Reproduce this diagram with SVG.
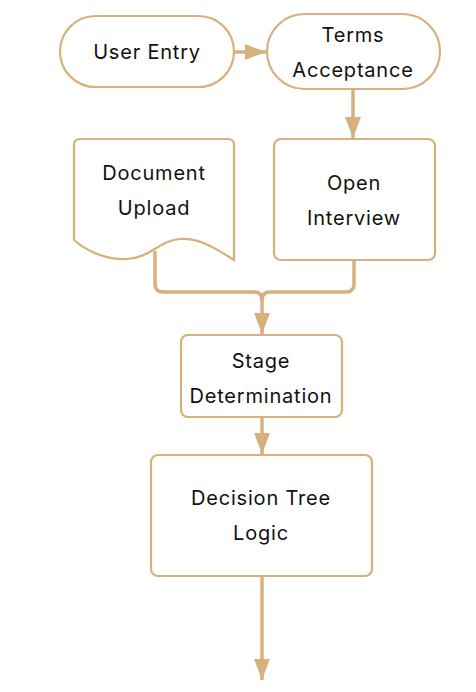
<svg xmlns="http://www.w3.org/2000/svg" width="476" height="692" viewBox="0 0 476 692">
<defs>
<style>
.node{fill:#fff;stroke:#D6B17E;stroke-width:2.2}
.edge{fill:none;stroke:#D6B17E;stroke-width:3.5;stroke-linejoin:round}
.t{font-family:Inter,"DejaVu Sans",sans-serif;font-size:20px;letter-spacing:0.8px;fill:#111;text-anchor:middle}
</style>
<marker id="ah" viewBox="0 0 10 10" refX="10" refY="5" markerWidth="6" markerHeight="6" orient="auto" markerUnits="strokeWidth">
<path d="M0,1.2 L10,5 L0,8.8 Z" fill="#D6B17E"/>
</marker>
</defs>
<rect width="476" height="692" fill="#fff"/>
<g id="edges">
<path class="edge" d="M234,52 L266,52" marker-end="url(#ah)"/>
<path class="edge" d="M353,89 L353,138" marker-end="url(#ah)"/>
<path class="edge" d="M155,251 L155,284 Q155,292 163,292 L254,292 Q262,292 262,300 L262,334" marker-end="url(#ah)"/>
<path class="edge" d="M354,260 L354,284 Q354,292 346,292 L270,292 Q262,292 262,300"/>
<path class="edge" d="M262,417 L262,454" marker-end="url(#ah)"/>
<path class="edge" d="M262,576 L262,680" marker-end="url(#ah)"/>
</g>
<g id="user-entry">
<rect class="node" x="60" y="16" width="174" height="71" rx="35.5"/>
<text class="t" x="147" y="59">User Entry</text>
</g>
<g id="terms-acceptance">
<rect class="node" x="267" y="14" width="173" height="75" rx="37.5"/>
<text class="t" x="353" y="42">Terms</text>
<text class="t" x="353" y="77">Acceptance</text>
</g>
<g id="document-upload">
<path class="node" d="M80,139 L228,139 Q234,139 234,145 L234,260 C215,248 200,238 180,239 C160,240 150,258 127,259 C105,260 85,250 74,240 L74,145 Q74,139 80,139 Z"/>
<text class="t" x="154" y="180">Document</text>
<text class="t" x="154" y="215">Upload</text>
</g>
<g id="open-interview">
<rect class="node" x="274" y="139" width="161" height="121" rx="7"/>
<text class="t" x="354" y="190">Open</text>
<text class="t" x="354" y="225">Interview</text>
</g>
<g id="stage-determination">
<rect class="node" x="181" y="335" width="161" height="82" rx="7"/>
<text class="t" x="261" y="368">Stage</text>
<text class="t" x="261" y="403">Determination</text>
</g>
<g id="decision-tree-logic">
<rect class="node" x="151" y="455" width="221" height="121" rx="7"/>
<text class="t" x="261" y="505">Decision Tree</text>
<text class="t" x="261" y="540">Logic</text>
</g>
</svg>
